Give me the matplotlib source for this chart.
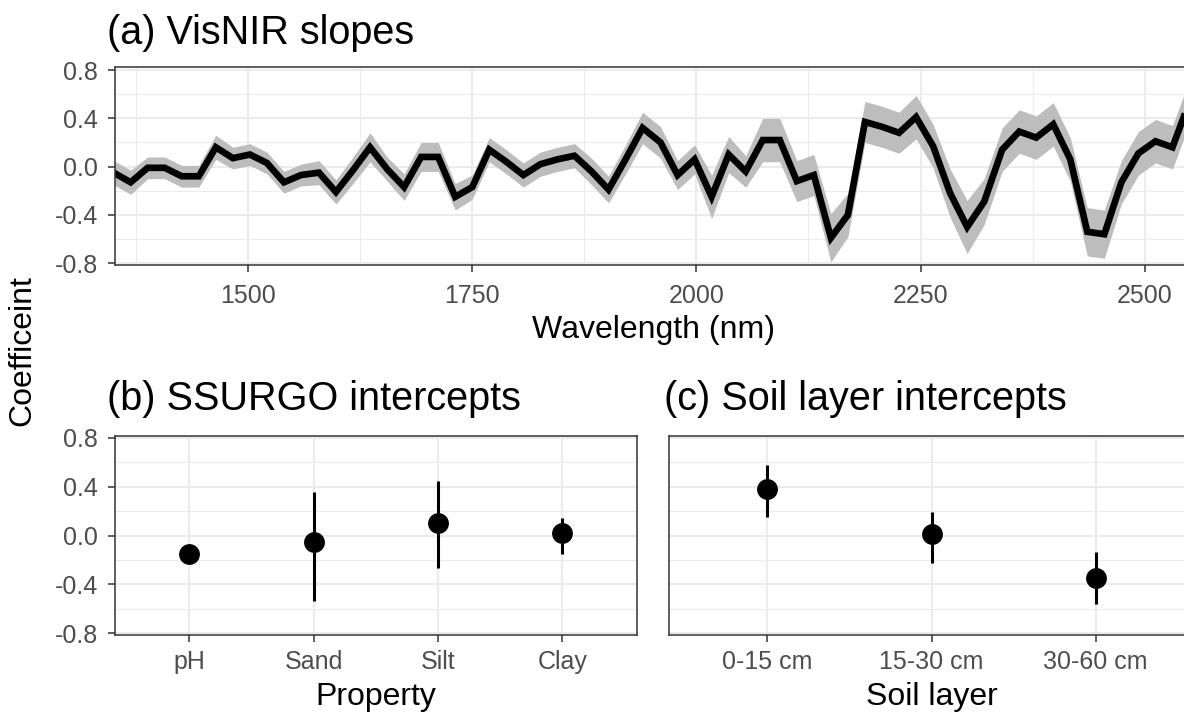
import numpy as np
import matplotlib
matplotlib.use("Agg")
import matplotlib.pyplot as plt
from matplotlib.ticker import FixedLocator

plt.rcParams["font.family"] = ["Liberation Sans", "DejaVu Sans"]

# ---- (a) VisNIR slope coefficients along the spectrum ----
wavelength = [1350, 1369, 1388, 1407, 1426, 1445, 1464, 1483, 1502, 1521,
              1540, 1559, 1579, 1598, 1617, 1636, 1655, 1674, 1693, 1712,
              1731, 1750, 1769, 1788, 1807, 1826, 1845, 1864, 1883, 1902,
              1921, 1940, 1960, 1979, 1998, 2017, 2036, 2055, 2074, 2093,
              2112, 2131, 2150, 2169, 2188, 2207, 2226, 2245, 2264, 2283,
              2302, 2321, 2341, 2360, 2379, 2398, 2417, 2436, 2455, 2474,
              2493, 2512, 2531, 2550]
slope = [-0.05, -0.13, -0.01, -0.01, -0.08, -0.08, 0.16, 0.07, 0.10, 0.03,
         -0.13, -0.07, -0.05, -0.21, -0.03, 0.16, -0.02, -0.17, 0.08, 0.08,
         -0.25, -0.17, 0.14, 0.04, -0.07, 0.02, 0.06, 0.09, -0.04, -0.19,
         0.06, 0.32, 0.20, -0.07, 0.06, -0.25, 0.10, -0.04, 0.22, 0.22,
         -0.12, -0.07, -0.59, -0.40, 0.37, 0.33, 0.28, 0.41, 0.17, -0.22,
         -0.50, -0.29, 0.14, 0.29, 0.24, 0.35, 0.06, -0.54, -0.56, -0.13,
         0.11, 0.21, 0.16, 0.54]
slope_se = [0.10, 0.10, 0.09, 0.09, 0.09, 0.09, 0.10, 0.09, 0.09, 0.09,
            0.09, 0.09, 0.10, 0.10, 0.11, 0.12, 0.10, 0.11, 0.12, 0.12,
            0.11, 0.10, 0.10, 0.10, 0.10, 0.10, 0.10, 0.10, 0.11, 0.11,
            0.12, 0.13, 0.13, 0.12, 0.12, 0.18, 0.15, 0.13, 0.18, 0.18,
            0.17, 0.17, 0.20, 0.18, 0.17, 0.17, 0.17, 0.18, 0.18, 0.20,
            0.22, 0.19, 0.18, 0.18, 0.18, 0.18, 0.18, 0.20, 0.20, 0.18,
            0.18, 0.18, 0.18, 0.18]

# ---- (b) SSURGO property intercepts ----
properties = ["pH", "Sand", "Silt", "Clay"]
prop_est = [-0.15, -0.05, 0.10, 0.02]
prop_lo = [-0.19, -0.54, -0.265, -0.155]
prop_hi = [-0.11, 0.36, 0.445, 0.145]

# ---- (c) Soil layer intercepts ----
layers = ["0-15 cm", "15-30 cm", "30-60 cm"]
layer_est = [0.38, 0.01, -0.35]
layer_lo = [0.15, -0.225, -0.565]
layer_hi = [0.575, 0.195, -0.135]

yticks = [-0.8, -0.4, 0.0, 0.4, 0.8]
ytick_labels = ["-0.8", "-0.4", "0.0", "0.4", "0.8"]

W, H = 1184, 715
fig = plt.figure(figsize=(W / 100, H / 100), dpi=100, facecolor="white")


def rect(l, t, r, b):
    return [l / W, 1 - b / H, (r - l) / W, (b - t) / H]


TICK_FS = 18
AXIS_FS = 23
TITLE_FS = 28.5
GRID = "#EBEBEB"


def style(ax, xpad):
    ax.set_facecolor("white")
    for s in ax.spines.values():
        s.set_color("#333333")
        s.set_linewidth(1.1)
    ax.tick_params(axis="both", colors="#333333", labelcolor="#4D4D4D",
                   labelsize=TICK_FS, length=5, width=1.1)
    ax.tick_params(axis="x", pad=xpad)
    ax.tick_params(axis="y", pad=7)
    ax.tick_params(axis="both", which="minor", length=0)
    ax.set_axisbelow(True)
    ax.grid(which="major", color=GRID, linewidth=1.5)
    ax.grid(which="minor", color=GRID, linewidth=0.8)
    ax.set_yticks(yticks)
    ax.set_yticklabels(ytick_labels)
    ax.yaxis.set_minor_locator(FixedLocator([-0.6, -0.2, 0.2, 0.6]))


# Panel (a)
ax1 = fig.add_axes(rect(114.5, 67, 1194, 265))
style(ax1, xpad=9)
wl = np.array(wavelength)
sl = np.array(slope)
se = np.array(slope_se)
ax1.fill_between(wl, sl - se, sl + se, color="#BDBDBD", linewidth=0)
ax1.plot(wl, sl, color="black", linewidth=4.8, solid_joinstyle="miter",
         solid_capstyle="butt")
ax1.set_xlim(1351, 2555)
ax1.set_ylim(-0.815, 0.825)
ax1.xaxis.set_major_locator(FixedLocator([1500, 1750, 2000, 2250, 2500]))
ax1.xaxis.set_minor_locator(FixedLocator([1375, 1625, 1875, 2125, 2375]))
ax1.set_xticklabels(["1500", "1750", "2000", "2250", "2500"])
ax1.spines["right"].set_visible(False)


def point_panel(ax, labels, est, lo, hi):
    style(ax, xpad=6)
    x = np.arange(len(labels))
    ax.vlines(x, lo, hi, color="black", linewidth=2.2)
    ax.plot(x, est, "o", color="black", markersize=15, markeredgewidth=0)
    ax.set_xticks(x)
    ax.set_xticklabels(labels)
    ax.set_xlim(-0.6, len(labels) - 1 + 0.6)
    ax.set_ylim(-0.815, 0.815)


ax2 = fig.add_axes(rect(114.5, 436, 637, 635))
point_panel(ax2, properties, prop_est, prop_lo, prop_hi)

ax3 = fig.add_axes(rect(669, 436, 1194, 635))
point_panel(ax3, layers, layer_est, layer_lo, layer_hi)
ax3.set_yticklabels([])
ax3.tick_params(axis="y", length=0)
ax3.spines["right"].set_visible(False)

# Titles
fig.text(107 / W, 1 - 44 / H, "(a) VisNIR slopes", fontsize=TITLE_FS,
         va="baseline", ha="left")
fig.text(107 / W, 1 - 410 / H, "(b) SSURGO intercepts", fontsize=TITLE_FS,
         va="baseline", ha="left")
fig.text(664 / W, 1 - 410 / H, "(c) Soil layer intercepts", fontsize=TITLE_FS,
         va="baseline", ha="left")

# Axis titles
fig.text(654 / W, 1 - 338 / H, "Wavelength (nm)", fontsize=AXIS_FS,
         va="baseline", ha="center")
fig.text(376 / W, 1 - 705 / H, "Property", fontsize=AXIS_FS,
         va="baseline", ha="center")
fig.text(932 / W, 1 - 705 / H, "Soil layer", fontsize=AXIS_FS,
         va="baseline", ha="center")
fig.text(22 / W, 1 - 351 / H, "Coefficeint", fontsize=AXIS_FS,
         va="center", ha="center", rotation=90)

fig.savefig("out.png", dpi=100, facecolor="white")
